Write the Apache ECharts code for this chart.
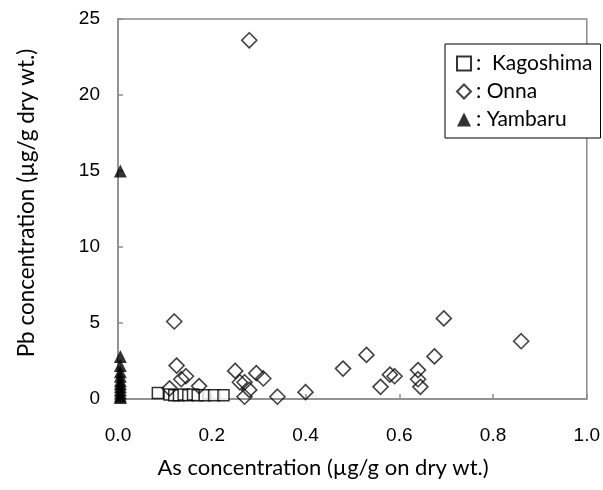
<!DOCTYPE html>
<html>
<head>
<meta charset="utf-8">
<script src="https://cdn.jsdelivr.net/npm/echarts@6/dist/echarts.min.js"></script>
<style>html,body{margin:0;padding:0;background:#fff}#c{width:603px;height:490px}</style>
</head>
<body>
<div id="c"></div>
<script>
// Kagoshima
var kagoshimaX = [0.085, 0.11, 0.12, 0.13, 0.14, 0.15, 0.16, 0.17, 0.185, 0.205, 0.225];
var kagoshimaY = [0.4, 0.3, 0.25, 0.25, 0.3, 0.25, 0.3, 0.25, 0.25, 0.25, 0.25];
// Onna
var onnaX = [0.12, 0.125, 0.11, 0.135, 0.145, 0.173, 0.25, 0.26, 0.27, 0.28, 0.27, 0.295, 0.31, 0.34, 0.4, 0.28, 0.48, 0.53, 0.56, 0.58, 0.59, 0.64, 0.64, 0.645, 0.675, 0.695, 0.86];
var onnaY = [5.1, 2.2, 0.7, 1.3, 1.5, 0.85, 1.85, 1.1, 1.1, 0.6, 0.15, 1.7, 1.35, 0.15, 0.45, 23.6, 2.0, 2.9, 0.8, 1.6, 1.5, 1.9, 1.3, 0.8, 2.8, 5.3, 3.8];
// Yambaru
var yambaruX = [0.005, 0.005, 0.005, 0.005, 0.005, 0.005, 0.005, 0.005, 0.005, 0.005, 0.005, 0.005];
var yambaruY = [15, 2.8, 2.2, 1.8, 1.5, 1.2, 1.0, 0.8, 0.6, 0.4, 0.2, 0.1];

var xTicks = ['0.0', '0.2', '0.4', '0.6', '0.8', '1.0'];
var yTicks = ['0', '5', '10', '15', '20', '25'];

function pairs(xs, ys) { return xs.map(function (x, i) { return [x, ys[i]]; }); }

var chart = echarts.init(document.getElementById('c'));
var axisGray = '#8c8c8c';
chart.setOption({
  animation: false,
  backgroundColor: '#fff',
  grid: { left: 118, right: 13, top: 19, bottom: 91, show: true, borderColor: axisGray, borderWidth: 1.5 },
  xAxis: {
    type: 'value', min: 0, max: 1, interval: 0.2,
    axisLine: { show: true, lineStyle: { color: axisGray, width: 1.5 } },
    axisTick: { show: true, inside: true, length: 5, lineStyle: { color: axisGray, width: 1.5 } },
    splitLine: { show: false },
    axisLabel: { margin: 27, fontFamily: 'Liberation Sans', fontSize: 19, color: '#000',
      formatter: function (v) { return xTicks[Math.round(v / 0.2)]; } }
  },
  yAxis: {
    type: 'value', min: 0, max: 25, interval: 5,
    axisLine: { show: true, lineStyle: { color: axisGray, width: 1.5 } },
    axisTick: { show: true, inside: true, length: 5, lineStyle: { color: axisGray, width: 1.5 } },
    splitLine: { show: false },
    axisLabel: { margin: 18, fontFamily: 'Liberation Sans', fontSize: 19, color: '#000',
      formatter: function (v) { return yTicks[Math.round(v / 5)]; } }
  },
  legend: {
    orient: 'vertical', left: 445, top: 44,
    padding: [9, 8, 8, 11],
    itemWidth: 14, itemHeight: 14, itemGap: 7,
    borderColor: '#000', borderWidth: 1,
    backgroundColor: '#fff',
    textStyle: { fontFamily: 'Lato', fontSize: 21, lineHeight: 21, color: '#000' },
    formatter: function (name) { return name === 'Kagoshima' ? ':  ' + name : ': ' + name; },
    data: ['Kagoshima', 'Onna', 'Yambaru']
  },
  graphic: [
    { type: 'text', x: 323, y: 468, style: { text: 'As concentration (µg/g on dry wt.)', align: 'center', verticalAlign: 'middle', font: '22px Lato', fill: '#000' } },
    { type: 'text', rotation: Math.PI / 2, x: 27, y: 203, style: { text: 'Pb concentration (µg/g dry wt.)', align: 'center', verticalAlign: 'middle', font: '22.5px Lato', fill: '#000' } }
  ],
  series: [
    { name: 'Kagoshima', type: 'scatter', symbol: 'rect', symbolSize: 11,
      itemStyle: { color: '#fff', borderColor: '#000', borderWidth: 1.5 },
      data: pairs(kagoshimaX, kagoshimaY) },
    { name: 'Onna', type: 'scatter', symbol: 'diamond', symbolSize: 15,
      itemStyle: { color: 'rgba(255,255,255,0)', borderColor: '#111', borderWidth: 1.6 },
      data: pairs(onnaX, onnaY) },
    { name: 'Yambaru', type: 'scatter', symbol: 'triangle', symbolSize: 13,
      itemStyle: { color: '#000', borderColor: '#000', borderWidth: 0 },
      data: pairs(yambaruX, yambaruY) }
  ]
});
</script>
</body>
</html>
